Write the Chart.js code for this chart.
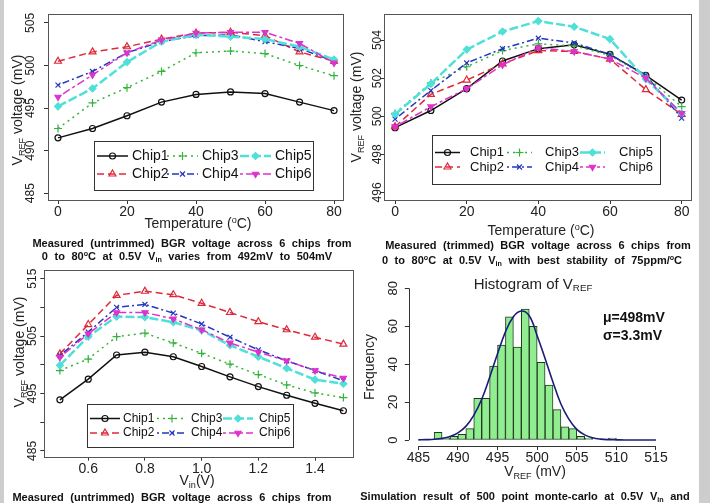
<!DOCTYPE html>
<html>
<head>
<meta charset="utf-8">
<script src="https://cdn.jsdelivr.net/npm/chart.js@4.4.0/dist/chart.umd.min.js"></script>
<style>
  body { margin: 0; width: 710px; height: 503px; overflow: hidden; position: relative; background: #fff;
         font-family: "Liberation Sans", Arial, sans-serif; color: #222; }
  canvas { position: absolute; }
  .t { position: absolute; white-space: nowrap; transform: translate(-50%, -50%); font-size: 14px; }
  .r { transform: translate(-50%, -50%) rotate(-90deg); }
  .cap { font-weight: bold; font-size: 11px; word-spacing: 3.5px; color: #111; }
  .stat { position: absolute; font-weight: bold; font-size: 14px; color: #111; transform: translateY(-50%); }
  sub { font-size: 65%; vertical-align: -0.3em; }
  sup { font-size: 65%; vertical-align: 0.55em; }
  .strip { position: absolute; top: 0; height: 503px; background: #cdcdcd; }
</style>
</head>
<body>
<canvas id="c1" width="350" height="240" style="left:0;top:0"></canvas>
<canvas id="c2" width="347" height="240" style="left:352px;top:0"></canvas>
<canvas id="c3" width="360" height="230" style="left:0;top:262px"></canvas>
<canvas id="c4" width="339" height="210" style="left:360px;top:270px"></canvas>

<div class="t" style="left:198px;top:223px">Temperature (<sup>o</sup>C)</div>
<div class="t r" style="left:18px;top:110px">V<sub>REF</sub> voltage (mV)</div>
<div class="t cap" style="left:192px;top:243px">Measured (untrimmed) BGR voltage across 6 chips from</div>
<div class="t cap" style="left:187px;top:257px">0 to 80<sup>o</sup>C at 0.5V V<sub>in</sub> varies from 492mV to 504mV</div>

<div class="t" style="left:541px;top:230px">Temperature (<sup>o</sup>C)</div>
<div class="t r" style="left:357px;top:107px">V<sub>REF</sub> voltage (mV)</div>
<div class="t cap" style="left:538px;top:245px">Measured (trimmed) BGR voltage across 6 chips from</div>
<div class="t cap" style="left:532px;top:261px">0 to 80<sup>o</sup>C at 0.5V V<sub>in</sub> with best stability of 75ppm/<sup>o</sup>C</div>

<div class="t" style="left:197px;top:481px">V<sub>in</sub>(V)</div>
<div class="t r" style="left:20px;top:352px">V<sub>REF</sub> voltage (mV)</div>
<div class="t cap" style="left:172px;top:497px">Measured (untrimmed) BGR voltage across 6 chips from</div>

<div class="t" style="left:533px;top:284px;font-size:15px">Histogram of V<sub>REF</sub></div>
<div class="t r" style="left:369px;top:367px">Frequency</div>
<div class="t" style="left:535px;top:472px">V<sub>REF</sub> (mV)</div>
<div class="stat" style="left:603px;top:317px">&mu;=498mV</div>
<div class="stat" style="left:603px;top:335px">&sigma;=3.3mV</div>
<div class="t cap" style="left:525px;top:497px">Simulation result of 500 point monte-carlo at 0.5V V<sub>in</sub> and</div>

<div class="strip" style="left:0;width:4px"></div>
<div class="strip" style="left:699px;width:11px"></div>

<script>
// ---- data ----
const chipNames = ['Chip1', 'Chip2', 'Chip3', 'Chip4', 'Chip5', 'Chip6'];
const tempC = [0, 10, 20, 30, 40, 50, 60, 70, 80];
const vinV = [0.5, 0.6, 0.7, 0.8, 0.9, 1.0, 1.1, 1.2, 1.3, 1.4, 1.5];

// untrimmed VREF (mV) vs temperature
const untrimmedVsTemp = [
  [491.5, 492.6, 494.1, 495.7, 496.6, 496.9, 496.7, 495.7, 494.7],
  [500.5, 501.6, 502.2, 503.1, 503.8, 503.9, 503.5, 501.6, 500.5],
  [492.6, 495.6, 497.4, 499.3, 501.5, 501.7, 501.4, 500.0, 498.8],
  [497.7, 499.3, 501.5, 502.8, 503.5, 503.6, 502.8, 502.0, 500.5],
  [495.2, 497.3, 500.4, 502.8, 503.6, 503.4, 503.1, 502.2, 500.7],
  [496.3, 498.9, 501.5, 503.0, 503.8, 503.9, 503.9, 502.6, 500.3]
];

// trimmed VREF (mV) vs temperature
const trimmedVsTemp = [
  [499.4, 500.3, 501.45, 502.9, 503.55, 503.75, 503.25, 502.15, 500.85],
  [499.45, 501.15, 501.9, 502.75, 503.45, 503.4, 503.0, 501.4, 500.1],
  [500.15, 501.75, 502.6, 503.45, 503.8, 503.7, 503.2, 502.1, 500.5],
  [499.85, 501.35, 502.8, 503.55, 504.1, 503.85, 503.25, 502.15, 499.9],
  [500.1, 501.7, 503.5, 504.45, 505.0, 504.7, 504.05, 501.95, 500.15],
  [499.45, 500.5, 501.45, 502.7, 503.6, 503.4, 503.0, 502.0, 500.15]
];

// untrimmed VREF (mV) vs supply voltage
const untrimmedVsVin = [
  [493.9, 497.5, 501.7, 502.2, 501.4, 499.7, 497.9, 496.2, 494.7, 493.3, 492.0],
  [501.9, 507.0, 512.1, 512.8, 512.2, 510.7, 509.1, 507.5, 506.1, 504.8, 503.6],
  [499.0, 501.0, 504.9, 505.5, 503.8, 502.0, 500.1, 498.3, 496.5, 495.1, 494.3],
  [501.6, 505.7, 510.0, 510.5, 509.0, 507.1, 504.8, 502.6, 500.7, 499.0, 497.2],
  [499.9, 504.9, 508.4, 508.3, 507.4, 506.0, 503.4, 501.4, 499.4, 497.4, 496.7],
  [501.3, 505.4, 509.1, 509.1, 508.0, 506.1, 503.8, 502.2, 500.7, 499.0, 497.7]
];

// Monte-Carlo histogram (1 mV bins)
const histCenters = [485.5, 486.5, 487.5, 488.5, 489.5, 490.5, 491.5, 492.5, 493.5, 494.5,
  495.5, 496.5, 497.5, 498.5, 499.5, 500.5, 501.5, 502.5, 503.5, 504.5,
  505.5, 506.5, 507.5, 508.5, 509.5, 510.5, 511.5, 512.5, 513.5, 514.5];
const histCounts = [0, 0, 4, 1, 2, 3, 6, 22, 22, 39,
  50, 65, 49, 69, 60, 41, 29, 16, 7, 6,
  2, 1, 0, 0, 1, 0, 0, 0, 0, 0];
// fitted normal curve
const curveX = [485, 486, 487, 488, 489, 490, 491, 492, 493, 494, 495, 496, 497, 498, 499, 500,
  501, 502, 503, 504, 505, 506, 507, 508, 509, 510, 511, 512, 513, 514, 515];
const curveY = [0.1, 0.2, 0.4, 0.9, 1.9, 3.8, 7.2, 13, 21.5, 33, 45.5, 57, 65, 68, 65.5, 55,
  43, 30.5, 19, 11, 5.6, 2.7, 1.2, 0.5, 0.2, 0.1, 0.05, 0, 0, 0, 0];

// ---- styling ----
Chart.defaults.font.family = '"Liberation Sans", Arial, sans-serif';
Chart.defaults.color = '#222';

const chipStyles = [
  { color: '#111111', dash: [],           point: 'circle',   r: 3,   rot: 0,   filled: false, w: 1.5 },
  { color: '#dd2a3a', dash: [7, 4],       point: 'triangle', r: 4,   rot: 0,   filled: false, w: 1.5 },
  { color: '#33b43a', dash: [2, 4],       point: 'cross',    r: 4,   rot: 0,   filled: false, w: 1.5 },
  { color: '#2536c0', dash: [2, 3, 7, 3], point: 'crossRot', r: 3.5, rot: 0,   filled: false, w: 1.5 },
  { color: '#4fe0d8', dash: [9, 3],       point: 'rectRot',  r: 3.5, rot: 0,   filled: true,  w: 2.5 },
  { color: '#dd33cc', dash: [3, 3, 8, 3], point: 'triangle', r: 3.5, rot: 180, filled: true,  w: 1.5 }
];

// box around the plot region
const plotBox = {
  id: 'plotBox',
  afterDraw(chart, args, o) {
    if (!o.show) return;
    const a = chart.chartArea, ctx = chart.ctx;
    ctx.save();
    ctx.strokeStyle = '#555'; ctx.lineWidth = 1;
    ctx.strokeRect(Math.round(a.left) + 0.5, Math.round(a.top) + 0.5,
      Math.round(a.right - a.left), Math.round(a.bottom - a.top));
    ctx.restore();
  }
};

// R-style rotated y tick labels
const yLabels = {
  id: 'yLabels',
  afterDraw(chart, args, o) {
    if (!o.offset) return;
    const s = chart.scales.y, ctx = chart.ctx;
    ctx.save();
    ctx.font = o.font; ctx.fillStyle = '#222';
    ctx.textAlign = 'center'; ctx.textBaseline = 'middle';
    s.ticks.forEach(t => {
      if (o.every && Math.round(t.value - s.ticks[0].value) % o.every !== 0) return;
      ctx.save();
      ctx.translate(chart.chartArea.left - o.offset, s.getPixelForValue(t.value));
      ctx.rotate(-Math.PI / 2);
      ctx.fillText(String(t.value), 0, 0);
      ctx.restore();
    });
    ctx.restore();
  }
};

// R-style axis lines spanning first to last tick
const rAxes = {
  id: 'rAxes',
  afterDraw(chart, args, o) {
    if (!o.show) return;
    const ctx = chart.ctx, a = chart.chartArea, x = chart.scales.x, y = chart.scales.y;
    ctx.save();
    ctx.strokeStyle = '#333'; ctx.lineWidth = 1;
    ctx.beginPath();
    ctx.moveTo(x.getPixelForValue(x.ticks[0].value), Math.round(a.bottom) + 0.5);
    ctx.lineTo(x.getPixelForValue(x.ticks[x.ticks.length - 1].value), Math.round(a.bottom) + 0.5);
    ctx.moveTo(Math.round(a.left) + 0.5, y.getPixelForValue(y.ticks[0].value));
    ctx.lineTo(Math.round(a.left) + 0.5, y.getPixelForValue(y.ticks[y.ticks.length - 1].value));
    ctx.stroke();
    ctx.restore();
  }
};

// boxed 2 x 3 legend inside the plot
const boxLegend = {
  id: 'boxLegend',
  afterDraw(chart, args, o) {
    if (!o.box) return;
    const ctx = chart.ctx, b = o.box;
    ctx.save();
    ctx.fillStyle = '#fff';
    ctx.fillRect(b[0], b[1], b[2], b[3]);
    ctx.strokeStyle = '#333'; ctx.lineWidth = 1;
    ctx.strokeRect(b[0] + 0.5, b[1] + 0.5, b[2], b[3]);
    ctx.font = o.font; ctx.textBaseline = 'middle'; ctx.textAlign = 'left';
    chart.data.datasets.forEach((ds, i) => {
      const col = Math.floor(i / 2), row = i % 2;
      const x0 = o.cols[col], yy = o.rows[row];
      ctx.strokeStyle = ds.borderColor; ctx.lineWidth = ds.borderWidth;
      ctx.setLineDash(ds.borderDash);
      ctx.beginPath(); ctx.moveTo(x0, yy); ctx.lineTo(x0 + o.sampleW, yy); ctx.stroke();
      ctx.setLineDash([]);
      ctx.fillStyle = ds.pointBackgroundColor; ctx.strokeStyle = ds.pointBorderColor;
      ctx.lineWidth = ds.pointBorderWidth;
      Chart.helpers.drawPoint(ctx, {
        pointStyle: ds.pointStyle, radius: ds.pointRadius,
        rotation: ds.pointRotation, borderWidth: ds.pointBorderWidth
      }, x0 + o.sampleW / 2, yy);
      ctx.fillStyle = '#111';
      ctx.fillText(ds.label, o.texts[col], yy);
    });
    ctx.restore();
  }
};

Chart.register(plotBox, yLabels, rAxes, boxLegend);

function chipDatasets(xs, series) {
  return series.map((vals, i) => {
    const st = chipStyles[i];
    return {
      label: chipNames[i],
      data: xs.map((x, k) => ({ x: x, y: vals[k] })),
      borderColor: st.color, borderWidth: st.w, borderDash: st.dash,
      pointStyle: st.point, pointRadius: st.r, pointRotation: st.rot,
      pointBorderColor: st.color, pointBorderWidth: 1.2,
      pointBackgroundColor: st.filled ? st.color : 'rgba(0,0,0,0)',
      tension: 0, fill: false, order: 6 - i
    };
  });
}

function axisX(min, max, step, h, fmt) {
  return {
    type: 'linear', min: min, max: max, offset: false,
    border: { display: false },
    grid: { display: true, drawOnChartArea: false, drawTicks: true, tickLength: 4, color: '#333', offset: false },
    ticks: { stepSize: step, includeBounds: false, autoSkip: false, maxRotation: 0,
      padding: 0, font: { size: 14 }, color: '#222', callback: fmt || (v => String(v)) },
    afterFit: s => { s.height = h; }
  };
}

function axisY(min, max, step, w) {
  return {
    type: 'linear', min: min, max: max,
    border: { display: false },
    grid: { display: true, drawOnChartArea: false, drawTicks: true, tickLength: 4, color: '#333' },
    ticks: { stepSize: step, includeBounds: false, display: false },
    afterFit: s => { s.width = w; }
  };
}

function lineChart(id, xs, series, o) {
  return new Chart(document.getElementById(id), {
    type: 'line',
    data: { datasets: chipDatasets(xs, series) },
    options: {
      responsive: false, animation: false, devicePixelRatio: 1,
      layout: { padding: o.pad },
      scales: { x: o.x, y: o.y },
      plugins: {
        legend: { display: false }, tooltip: { enabled: false },
        plotBox: { show: true },
        yLabels: { offset: o.yOff, font: '12px "Liberation Sans", Arial, sans-serif', every: o.every },
        boxLegend: o.legend
      }
    }
  });
}

// panel 1: untrimmed vs temperature
lineChart('c1', tempC, untrimmedVsTemp, {
  pad: { top: 14, right: 7, left: 0, bottom: 0 },
  x: axisX(-2.9, 82.6, 20, 40),
  y: axisY(484.2, 506.05, 5, 48),
  yOff: 17,
  legend: { box: [94, 141, 219, 49], rows: [156, 174], cols: [97, 167, 240], sampleW: 31,
    texts: [132, 202, 275], font: '14px "Liberation Sans", Arial, sans-serif' }
});

// panel 2: trimmed vs temperature
lineChart('c2', tempC, trimmedVsTemp, {
  pad: { top: 14, right: 7.3, left: 0, bottom: 0 },
  x: axisX(-3.0, 82.8, 20, 40),
  y: axisY(495.6, 505.37, 2, 32.3),
  yOff: 7,
  legend: { box: [80, 135, 228, 49], rows: [152.5, 167], cols: [83, 155, 228], sampleW: 25,
    texts: [118, 193, 267], font: '13px "Liberation Sans", Arial, sans-serif' }
});

// panel 3: untrimmed vs Vin
lineChart('c3', vinV, untrimmedVsVin, {
  pad: { top: 8, right: 6.7, left: 0, bottom: 0 },
  x: axisX(0.445, 1.535, 0.2, 35.3, v => v.toFixed(1)),
  y: axisY(484.0, 516.5, 5, 44.3),
  yOff: 12, every: 10,
  legend: { box: [87, 142, 206, 43], rows: [156.5, 171], cols: [90, 157, 223], sampleW: 30,
    texts: [123, 191, 259], font: '12px "Liberation Sans", Arial, sans-serif' }
});

// panel 4: Monte-Carlo histogram
new Chart(document.getElementById('c4'), {
  type: 'bar',
  data: {
    datasets: [
      { type: 'line', data: curveX.map((x, i) => ({ x: x, y: curveY[i] })),
        borderColor: '#1c1c78', borderWidth: 1.6, pointRadius: 0, tension: 0.4, fill: false, order: 0 },
      { type: 'bar', data: histCenters.map((x, i) => ({ x: x, y: histCounts[i] })),
        backgroundColor: '#90ee90', borderColor: '#203a20', borderWidth: 1, borderSkipped: false,
        barPercentage: 1, categoryPercentage: 1, order: 1 }
    ]
  },
  options: {
    responsive: false, animation: false, devicePixelRatio: 1,
    layout: { padding: { top: 12.2, right: 33.5, left: 0, bottom: 0 } },
    scales: {
      x: axisX(483.8, 516.2, 5, 33.9),
      y: axisY(-3.2, 83.2, 20, 48.8)
    },
    plugins: {
      legend: { display: false }, tooltip: { enabled: false },
      plotBox: { show: false }, rAxes: { show: true },
      yLabels: { offset: 15, font: '13px "Liberation Sans", Arial, sans-serif' }
    }
  }
});
</script>
</body>
</html>
